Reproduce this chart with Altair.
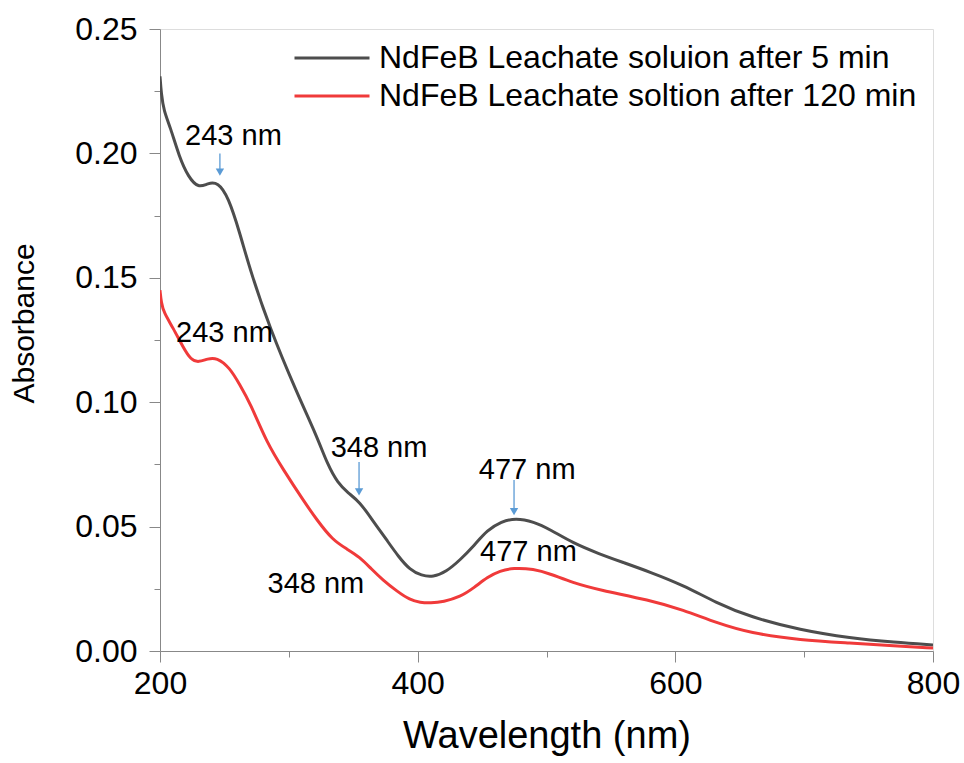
import altair as alt
import pandas as pd

# ---- data ----
series_names = ["NdFeB Leachate soluion after 5 min", "NdFeB Leachate soltion after 120 min"]

wl_5 = [200, 201, 203, 208, 215, 222, 230, 237, 245, 253, 262, 270, 285, 306, 322, 330,
        338, 346, 355, 365, 376, 385, 394, 403, 412, 422, 433, 444, 454, 465, 476, 490,
        503, 520, 541, 560, 580, 606, 632, 658, 697, 736, 770, 800]
abs_5 = [0.231, 0.224, 0.217, 0.2106, 0.1985, 0.1905, 0.1860, 0.1880, 0.1885, 0.1825,
         0.1680, 0.1530, 0.1300, 0.1040, 0.0860, 0.0750, 0.0675, 0.0635, 0.0600, 0.0525,
         0.0446, 0.0380, 0.0326, 0.0303, 0.0297, 0.0318, 0.0366, 0.0425, 0.0486, 0.0520,
         0.0535, 0.0520, 0.0488, 0.0435, 0.0390, 0.0355, 0.0318, 0.0265, 0.0193, 0.0137,
         0.0084, 0.0052, 0.0035, 0.0024]

wl_120 = [200, 201, 203, 210, 218, 224, 230, 237, 244, 254, 262, 270, 283, 296, 311, 322,
          334, 345, 355, 364, 373, 384, 394, 402, 410, 420, 433, 444, 454, 464, 474, 490,
          503, 520, 541, 580, 606, 632, 658, 697, 736, 770, 800]
abs_120 = [0.145, 0.140, 0.136, 0.130, 0.122, 0.117, 0.116, 0.1175, 0.1180, 0.1140,
           0.1070, 0.0997, 0.0836, 0.0727, 0.0607, 0.0525, 0.0446, 0.0410, 0.0378, 0.0330,
           0.0285, 0.0240, 0.0205, 0.0195, 0.0193, 0.0198, 0.0217, 0.0255, 0.0297, 0.0322,
           0.0334, 0.0330, 0.0310, 0.0275, 0.0245, 0.0205, 0.0165, 0.0113, 0.0072, 0.0044,
           0.0032, 0.0020, 0.0012]

label_text = ["243 nm", "243 nm", "348 nm", "348 nm", "477 nm", "477 nm"]
label_wl = [257, 250, 370, 321, 485, 486]
label_abs = [0.207, 0.128, 0.0816, 0.0268, 0.0727, 0.0398]

arrow_wl = [246.5, 354.5, 474.8]
arrow_top = [0.200, 0.076, 0.0687]
arrow_head = [0.1925, 0.0640, 0.0560]

x_major = [200, 400, 600, 800]
x_minor = [300, 500, 700]
y_major = [0, 0.05, 0.10, 0.15, 0.20, 0.25]
y_minor = [0.025, 0.075, 0.125, 0.175, 0.225]

colors = ["#4d4d4d", "#f03a3a"]
arrow_color = "#5b9bd5"

# ---- tables ----
lines_df = pd.concat([
    pd.DataFrame({"wl": wl_5, "A": abs_5, "series": series_names[0]}),
    pd.DataFrame({"wl": wl_120, "A": abs_120, "series": series_names[1]}),
])
labels_df = pd.DataFrame({"wl": label_wl, "A": label_abs, "text": label_text})
arrows_df = pd.DataFrame({"wl": arrow_wl, "top": arrow_top, "head": arrow_head})

FONT = "Liberation Sans"

x_scale = alt.Scale(domain=[200, 800], nice=False, zero=False)
y_scale = alt.Scale(domain=[0, 0.25], nice=False)

x_axis = alt.Axis(
    title="Wavelength (nm)", orient="bottom", values=x_major, format="d", grid=False,
    tickSize=11, labelFontSize=32, titleFontSize=38, titleFontWeight="normal",
    labelPadding=6, titlePadding=18, labelFlush=False,
)
y_axis = alt.Axis(
    title="Absorbance", orient="left", values=y_major, format=".2f", grid=False,
    tickSize=11, labelFontSize=32, titleFontSize=30, titleFontWeight="normal",
    labelPadding=12, labelFlush=False,
    titleX=-136, titleY=294, titleAngle=270, titleAlign="center", titleBaseline="middle",
)
x_axis_minor = alt.Axis(
    title=None, orient="bottom", values=x_minor, labels=False, domain=False,
    grid=False, tickSize=6,
)
y_axis_minor = alt.Axis(
    title=None, orient="left", values=y_minor, labels=False, domain=False,
    grid=False, tickSize=6,
)

lines = alt.Chart(lines_df).mark_line(strokeWidth=3, interpolate="basis", clip=True).encode(
    x=alt.X("wl:Q", scale=x_scale, axis=x_axis),
    y=alt.Y("A:Q", scale=y_scale, axis=y_axis),
    color=alt.Color(
        "series:N",
        scale=alt.Scale(domain=series_names, range=colors),
        legend=alt.Legend(
            title=None,
            orient="none",
            legendX=133,
            legendY=13,
            symbolType="stroke",
            symbolSize=5625,
            symbolStrokeWidth=3,
            clipHeight=32,
            rowPadding=6,
            labelFontSize=32,
            labelFont=FONT,
            labelColor="black",
            labelOffset=8,
            labelLimit=900,
        ),
    ),
    detail="series:N",
)

labels = alt.Chart(labels_df).mark_text(fontSize=29, font=FONT, color="black",
                                        align="center", baseline="middle").encode(
    x=alt.X("wl:Q", scale=x_scale, axis=x_axis_minor),
    y=alt.Y("A:Q", scale=y_scale, axis=y_axis_minor),
    text="text:N",
)

arrow_lines = alt.Chart(arrows_df).mark_rule(color=arrow_color, strokeWidth=1.3).encode(
    x=alt.X("wl:Q", scale=x_scale, axis=None),
    y=alt.Y("top:Q", scale=y_scale, axis=None),
    y2="head:Q",
)
arrow_heads = alt.Chart(arrows_df).mark_point(shape="triangle-down", filled=True, size=70,
                                               color=arrow_color, opacity=1).encode(
    x=alt.X("wl:Q", scale=x_scale, axis=None),
    y=alt.Y("head:Q", scale=y_scale, axis=None),
)

chart = alt.layer(lines, labels, arrow_lines, arrow_heads).resolve_axis(
    x="independent", y="independent"
).properties(
    width=773,
    height=622,
    autosize="none",
    padding={"left": 160, "top": 29, "right": 31, "bottom": 112},
).configure_view(
    stroke="black", strokeWidth=2
).configure_axis(
    domainColor="black", domainWidth=2, tickColor="black", tickWidth=2,
    labelColor="black", titleColor="black", labelFont=FONT, titleFont=FONT,
).configure(background="white")

chart.save("out.html", embed_options={"renderer": "svg", "actions": False})
